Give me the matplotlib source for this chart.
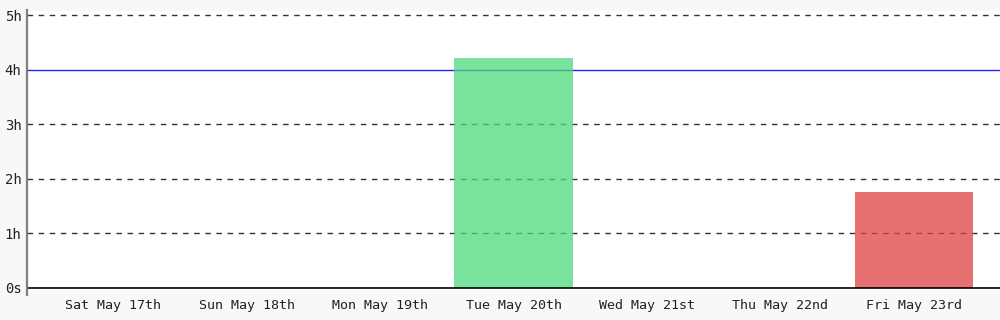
import matplotlib
matplotlib.use("Agg")
import matplotlib.pyplot as plt

days = ["Sat May 17th", "Sun May 18th", "Mon May 19th", "Tue May 20th",
        "Wed May 21st", "Thu May 22nd", "Fri May 23rd"]
hours = [0, 0, 0, 4.22, 0, 0, 1.75]
goal = 4.0
colors = [None, None, None, "#4cd97b", None, None, "#e04040"]
ytick_vals = [0, 1, 2, 3, 4, 5]
ytick_labels = ["0s", "1h", "2h", "3h", "4h", "5h"]

plt.rcParams['font.family'] = ['DejaVu Sans Mono']
fig = plt.figure(figsize=(10, 3.2), dpi=100, facecolor="#f8f8f8")
ax = fig.add_axes([0.027, 0.095, 0.973, 0.87])
ax.set_facecolor("white")

ax.set_xlim(-0.645, 6.645)
ax.set_ylim(-0.03, 5.07)

for y in [1, 2, 3, 5]:
    ax.axhline(y, color="#333333", lw=1.0, ls=(0, (4, 4)), zorder=1)
ax.axhline(goal, color="#2020ff", lw=1.0, zorder=1)

for i, (h, c) in enumerate(zip(hours, colors)):
    if h > 0:
        ax.bar(i, h, width=0.89, color=c, alpha=0.75, lw=0, zorder=2)

ax.axhline(0, color="black", lw=1.2, zorder=3)

ax.set_xticks(range(len(days)))
ax.set_xticklabels(days, fontsize=9.6, color="#222222")
ax.set_yticks(ytick_vals)
ax.set_yticklabels(ytick_labels, fontsize=10, color="#222222")
ax.tick_params(length=0, pad=4)
ax.tick_params(axis='x', pad=7)
for s in ["top", "right", "bottom", "left"]:
    ax.spines[s].set_visible(False)
ax.plot([-0.645, -0.645], [-0.12, 5.1], color="#808080", lw=1.6,
        clip_on=False, zorder=4)

fig.savefig("out.png", dpi=100, facecolor=fig.get_facecolor())
